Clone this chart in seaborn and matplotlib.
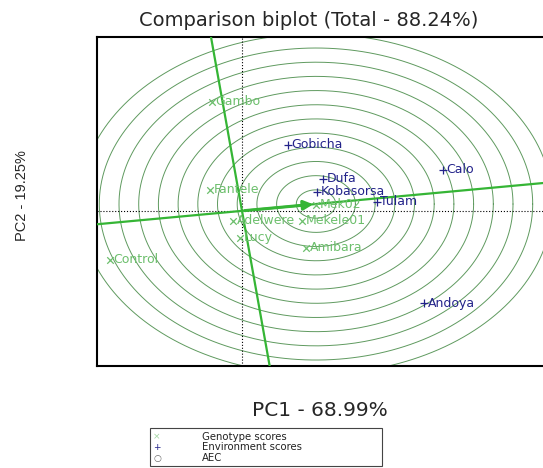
import numpy as np
import pandas as pd
import matplotlib
matplotlib.use("Agg")
import matplotlib.pyplot as plt
import seaborn as sns

# genotype scores (PC1, PC2)
gen_names = ["Gambo", "Fantele", "Adelwere", "Mekele01", "Lucy", "Amibara", "Control", "Mek02"]
gen_pc1 = [-0.60, -0.64, -0.18, 1.20, -0.04, 1.28, -2.64, 1.48]
gen_pc2 = [3.03, 0.58, -0.28, -0.28, -0.75, -1.03, -1.36, 0.17]

# environment scores (PC1, PC2)
env_names = ["Gobicha", "Dufa", "Kobasorsa", "Tulam", "Calo", "Andoya"]
env_pc1 = [0.92, 1.62, 1.50, 2.70, 4.02, 3.64]
env_pc2 = [1.83, 0.89, 0.53, 0.25, 1.14, -2.56]

# ideal point on the AEC
aec_pc1 = 1.48
aec_pc2 = 0.19
ring_step = 0.394
n_rings = 12

title = "Comparison biplot (Total - 88.24%)"
xlab = "PC1 - 68.99%"
ylab = "PC2 - 19.25%"
legend_labels = ["Genotype scores", "Environment scores", "AEC"]

sns.set_style("white")
plt.rcParams['font.family'] = ['DejaVu Sans']

W, H = 543, 468
fig = plt.figure(figsize=(W / 100, H / 100), dpi=100)
ax = fig.add_axes([97 / W, 1 - 366 / H, 446 / W, 329 / H])

gen_green = '#6cbf6c'
env_blue = '#23238a'
line_green = '#35b535'

# concentric rings around the ideal point
t = np.linspace(0, 2 * np.pi, 400)
for k in range(1, n_rings + 1):
    r = k * ring_step
    ax.plot(aec_pc1 + r * np.cos(t), aec_pc2 + r * np.sin(t),
            color='#5f9a5f', lw=0.7, zorder=1)

ax.axhline(0, color='k', ls=':', lw=0.8, zorder=2)
ax.axvline(0, color='k', ls=':', lw=0.8, zorder=2)

# AEC abscissa and ordinate
ax.axline((0, 0), (aec_pc1, aec_pc2), color=line_green, lw=1.6, zorder=3)
ax.axline((0, 0), slope=-aec_pc1 / aec_pc2, color=line_green, lw=1.6, zorder=3)
ax.annotate('', xy=(aec_pc1, aec_pc2), xytext=(0, 0),
            arrowprops=dict(arrowstyle='-|>', color=line_green, lw=2.2,
                            mutation_scale=14), zorder=4)

gen = pd.DataFrame({'PC1': gen_pc1, 'PC2': gen_pc2, 'name': gen_names})
env = pd.DataFrame({'PC1': env_pc1, 'PC2': env_pc2, 'name': env_names})

sns.scatterplot(data=gen, x='PC1', y='PC2', marker='x', color=gen_green,
                s=22, linewidth=0.9, ax=ax, zorder=5)
sns.scatterplot(data=env, x='PC1', y='PC2', marker='+', color=env_blue,
                s=30, linewidth=0.9, ax=ax, zorder=5)

for _, row in gen.iterrows():
    ax.annotate(row['name'], (row['PC1'], row['PC2']), xytext=(2.5, 0),
                textcoords='offset points', ha='left', va='center',
                fontsize=9, color=gen_green, zorder=6)
for _, row in env.iterrows():
    ax.annotate(row['name'], (row['PC1'], row['PC2']), xytext=(2.5, 0),
                textcoords='offset points', ha='left', va='center',
                fontsize=9, color=env_blue, zorder=6)

ax.set_xlim(-2.9, 6.02)
ax.set_ylim(-4.31, 4.83)
ax.set_xticks([])
ax.set_yticks([])
ax.set_xlabel('')
ax.set_ylabel('')
for side in ['left', 'bottom', 'top']:
    ax.spines[side].set_color('k')
    ax.spines[side].set_linewidth(1.5)
ax.spines['right'].set_visible(False)

fig.text(309 / W, 1 - 21 / H, title, ha='center', va='center', fontsize=14)
fig.text(320 / W, 1 - 410 / H, xlab, ha='center', va='center', fontsize=14.5)
fig.text(22 / W, 1 - 196 / H, ylab, ha='center', va='center', fontsize=10.5,
         rotation=90, family='Liberation Sans')

# legend box at the bottom
box = plt.Rectangle((150 / W, 1 - 466 / H), (382 - 150) / W, (466 - 428) / H,
                    transform=fig.transFigure, fill=False, ec='#444444', lw=0.8)
fig.add_artist(box)
leg_syms = ['\u00d7', '+', '\u25cb']
leg_cols = ['#9fd49f', env_blue, '#666666']
leg_y = [437, 447.5, 458]
for sym, col, lab, yy in zip(leg_syms, leg_cols, legend_labels, leg_y):
    fig.text(157 / W, 1 - yy / H, sym, ha='center', va='center', fontsize=6.5, color=col)
    fig.text(202 / W, 1 - yy / H, lab, ha='left', va='center', fontsize=7.3, color='#222222')

fig.savefig('out.png', dpi=100)
